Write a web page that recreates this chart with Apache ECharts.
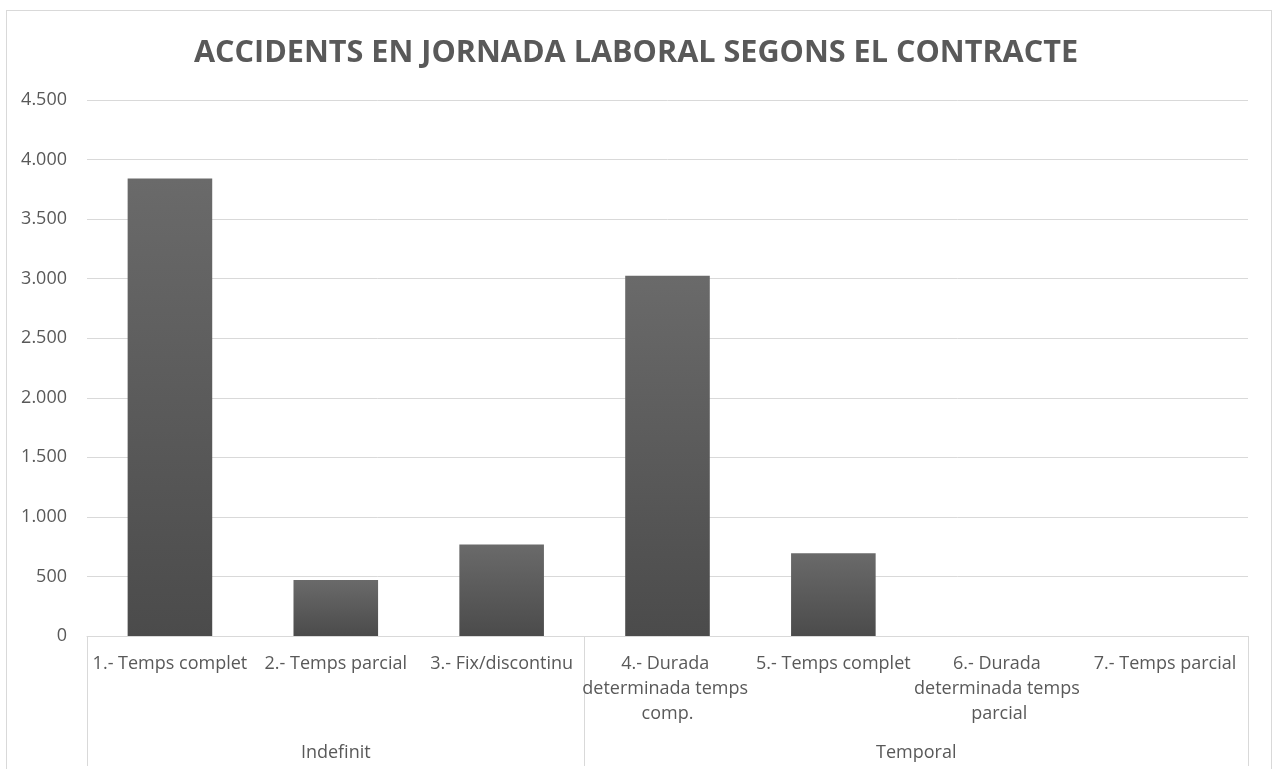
<!DOCTYPE html>
<html>
<head>
<meta charset="utf-8">
<script src="https://cdn.jsdelivr.net/npm/echarts@6/dist/echarts.min.js"></script>
<style>
  html, body { margin: 0; padding: 0; background: #fff; }
  #frame { position: absolute; left: 6px; top: 10px; width: 1264px; height: 780px; border: 1px solid #d9d9d9; }
  #chart { position: absolute; left: 0; top: 0; width: 1272px; height: 769px; }
</style>
</head>
<body>
<div id="frame"></div>
<div id="chart"></div>
<script>
// data
const categories = [
  '1.- Temps complet',
  '2.- Temps parcial',
  '3.- Fix/discontinu',
  '4.- Durada determinada temps comp.',
  '5.- Temps complet',
  '6.- Durada determinada temps parcial',
  '7.- Temps parcial'
]
const accidents = [3840, 470, 768, 3025, 695, 0, 0]
const groups = ['Indefinit', 'Temporal']
const groupSizes = [3, 4]

// group boundaries / centers on a 0..n scale
const bounds = [0]
groupSizes.forEach(s => bounds.push(bounds[bounds.length - 1] + s))
const centers = groupSizes.map((s, i) => bounds[i] + s / 2)

const font = 'Open Sans'
const txt = '#595959'
const lineCol = '#d9d9d9'

const chart = echarts.init(document.getElementById('chart'))
chart.setOption({
  animation: false,
  textStyle: { fontFamily: font },
  title: {
    text: 'ACCIDENTS EN JORNADA LABORAL SEGONS EL CONTRACTE',
    left: 'center',
    top: 33,
    textStyle: { fontFamily: font, fontSize: 30.6, fontWeight: 'bold', color: txt }
  },
  grid: { left: 87, right: 24, top: 100, bottom: 133 },
  xAxis: [
    {
      type: 'category',
      data: categories,
      axisLine: { lineStyle: { color: lineCol } },
      axisTick: { show: false },
      axisLabel: {
        color: txt,
        fontSize: 18,
        lineHeight: 25,
        margin: 15,
        interval: 0,
        width: 182,
        overflow: 'break',
        align: 'center',
        verticalAlign: 'top'
      }
    },
    {
      type: 'value',
      position: 'bottom',
      min: 0,
      max: bounds[bounds.length - 1],
      axisLine: { show: false },
      splitLine: { show: false },
      axisTick: {
        customValues: bounds,
        length: 130,
        lineStyle: { color: lineCol }
      },
      axisLabel: {
        customValues: centers,
        margin: 108,
        color: txt,
        fontSize: 18,
        formatter: v => {
          const i = centers.findIndex(c => Math.abs(c - v) < 1e-6)
          return i >= 0 ? groups[i] : ''
        }
      }
    }
  ],
  yAxis: {
    type: 'value',
    min: 0,
    max: 4500,
    interval: 500,
    axisLine: { show: false },
    axisTick: { show: false },
    splitLine: { lineStyle: { color: lineCol } },
    axisLabel: {
      color: txt,
      fontSize: 18,
      margin: 20,
      formatter: v => v.toLocaleString('de-DE')
    }
  },
  series: [
    {
      type: 'bar',
      data: accidents,
      barCategoryGap: '49%',
      itemStyle: {
        color: new echarts.graphic.LinearGradient(0, 0, 0, 1, [
          { offset: 0, color: '#6a6a6a' },
          { offset: 1, color: '#4b4b4b' }
        ])
      }
    }
  ]
})
window.addEventListener('resize', () => chart.resize())
</script>
</body>
</html>
